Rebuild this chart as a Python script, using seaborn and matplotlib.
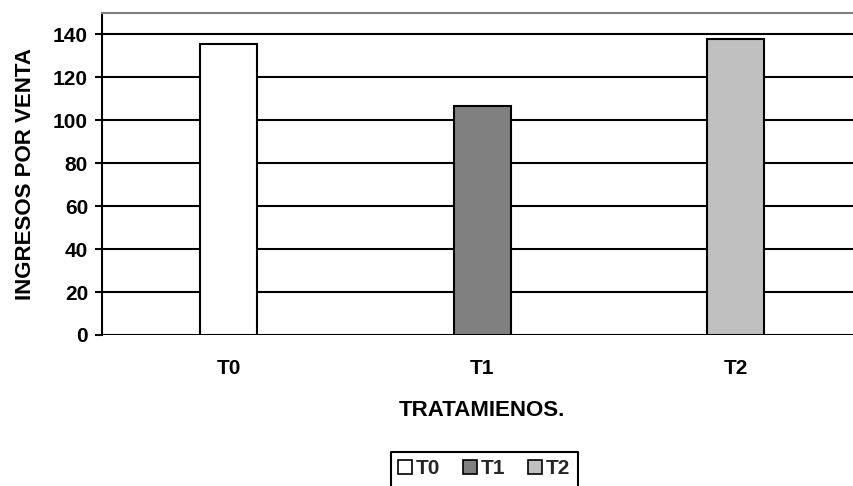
import matplotlib
matplotlib.use("Agg")
import matplotlib.pyplot as plt
from matplotlib.lines import Line2D
import seaborn as sns
import pandas as pd

# Ingresos por venta según tratamiento
tratamientos = ["T0", "T1", "T2"]
ingresos = [135.5, 106.5, 137.8]
colores = ["#FFFFFF", "#808080", "#C0C0C0"]
y_ticks = [0, 20, 40, 60, 80, 100, 120, 140]

sns.set_theme(style="white")
plt.rcParams["font.family"] = ["Liberation Sans", "DejaVu Sans"]
plt.rcParams["font.weight"] = "bold"

df = pd.DataFrame({"Tratamiento": tratamientos, "Ingreso": ingresos})

fig = plt.figure(figsize=(8.54, 4.86), dpi=100)
ax = fig.add_axes([0.1194, 0.3107, 0.8905, 0.6626])

sns.barplot(data=df, x="Tratamiento", y="Ingreso", hue="Tratamiento",
            palette=colores, width=0.225, edgecolor="black", linewidth=1.5,
            saturation=1, legend=True, ax=ax)

handles, labels = ax.get_legend_handles_labels()
ax.get_legend().remove()

ax.set_ylim(0, 150)
ax.set_xlim(-0.5, 2.5)
ax.set_yticks(y_ticks)
ax.set_axisbelow(True)
ax.yaxis.grid(True, color="black", linewidth=1.5)
ax.xaxis.grid(False)

for side in ["right", "bottom"]:
    ax.spines[side].set_visible(False)
ax.spines["left"].set_color("black")
ax.spines["left"].set_linewidth(1.5)
ax.spines["top"].set_color("#808080")
ax.spines["top"].set_linewidth(1.5)

ax.tick_params(axis="y", which="major", left=True, length=5, width=1.5,
               color="black", pad=5, labelsize=15, labelcolor="black")
ax.tick_params(axis="x", which="major", bottom=False, length=0, pad=17,
               labelsize=15, labelcolor="black")
for lbl in ax.get_xticklabels() + ax.get_yticklabels():
    lbl.set_fontweight("bold")

ax.set_xlabel("TRATAMIENOS.", fontsize=16, fontweight="bold", color="black")
ax.set_ylabel("INGRESOS POR VENTA", fontsize=16, fontweight="bold", color="black")
ax.xaxis.set_label_coords(0.5, -0.233)
ax.xaxis.label.set_va("center")
ax.yaxis.set_label_coords(-0.101, 0.5)
ax.yaxis.label.set_va("center")

leg = fig.legend(handles, labels, ncol=3, loc="upper left",
                 bbox_to_anchor=(391 / 854, 1 - 452 / 486),
                 frameon=False, handlelength=0.65, handleheight=0.65,
                 handletextpad=0.2, columnspacing=1.1, borderpad=0.35,
                 borderaxespad=0, prop={"weight": "bold", "size": 15})
for h in leg.legend_handles:
    h.set_edgecolor("black")
    h.set_linewidth(1.2)

# Open-bottomed frame around the legend
fig.canvas.draw()
bb = leg.get_window_extent().transformed(fig.transFigure.inverted())
fig.add_artist(Line2D([bb.x0, bb.x0, bb.x1, bb.x1], [-0.05, bb.y1, bb.y1, -0.05],
                      transform=fig.transFigure, color="black", linewidth=1.5))

fig.savefig("out.png", dpi=100)
